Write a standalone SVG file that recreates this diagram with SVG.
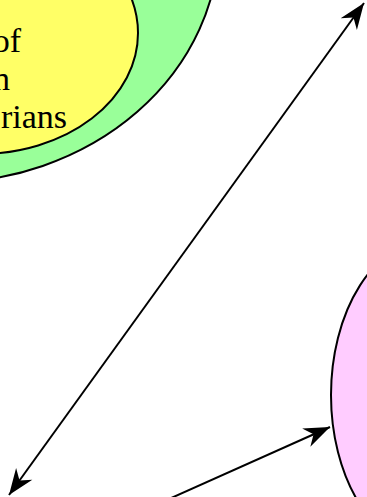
<svg xmlns="http://www.w3.org/2000/svg" width="367" height="497" viewBox="0 0 367 497">
<defs>
<style>
.node{stroke:#000;stroke-width:2}
.lbl{font-family:"Liberation Serif","Times New Roman",serif;font-size:34px;fill:#000;text-anchor:end}
.edge{stroke:#000;stroke-width:2;fill:none}
</style>
<marker id="ah" viewBox="-28 -12 30 24" refX="0" refY="0" markerWidth="30" markerHeight="24" markerUnits="userSpaceOnUse" orient="auto-start-reverse">
<path d="M0,0 L-26,-10 L-18,0 L-26,10 Z" fill="#000"/>
</marker>
</defs>
<rect width="367" height="497" fill="#fff"/>
<g id="outer-group">
<ellipse class="node" cx="-60" cy="-60" rx="279" ry="243" fill="#99ff99"/>
</g>
<g id="inner-group">
<ellipse class="node" cx="-20" cy="33" rx="158" ry="121" fill="#ffff66"/>
<text class="lbl" x="21" y="52">of</text>
<text class="lbl" x="10" y="90">n</text>
<text class="lbl" x="67" y="128">rians</text>
</g>
<g id="pink-node">
<ellipse class="node" cx="430" cy="395" rx="99" ry="155" fill="#ffccff"/>
</g>
<g id="connectors">
<line class="edge" x1="9" y1="495" x2="364" y2="3" marker-start="url(#ah)" marker-end="url(#ah)"/>
<line class="edge" x1="160" y1="503" x2="330" y2="427" marker-end="url(#ah)"/>
</g>
</svg>
